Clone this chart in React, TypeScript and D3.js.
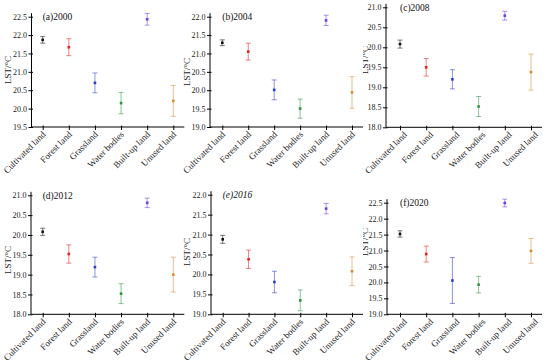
import React, { useEffect, useRef } from "react";
import * as d3 from "d3";

const width = 550;
const height = 364;
const font = "'Liberation Serif', 'Times New Roman', serif";

const categories = [
  "Cultivated land",
  "Forest land",
  "Grassland",
  "Water bodies",
  "Built-up land",
  "Unused land"
];
const colors = ["#111111", "#e3211d", "#2b3bd0", "#2e9440", "#6c3fe0", "#d68a35"];

// mean LST and error per land type
const mean2000 = [21.87, 21.67, 20.7, 20.15, 22.43, 20.21];
const err2000 = [0.09, 0.23, 0.27, 0.29, 0.16, 0.42];
const mean2004 = [21.29, 21.05, 20.01, 19.5, 21.9, 19.94];
const err2004 = [0.08, 0.23, 0.27, 0.26, 0.14, 0.43];
const mean2008 = [20.08, 19.5, 19.2, 18.52, 20.79, 19.38];
const err2008 = [0.1, 0.22, 0.24, 0.25, 0.11, 0.45];
const mean2012 = [20.08, 19.52, 19.19, 18.52, 20.81, 19.0];
const err2012 = [0.09, 0.23, 0.25, 0.25, 0.12, 0.44];
const mean2016 = [20.88, 20.38, 19.81, 19.35, 21.65, 20.08];
const err2016 = [0.1, 0.23, 0.27, 0.26, 0.13, 0.36];
const mean2020 = [21.52, 20.89, 20.06, 19.93, 22.49, 20.99];
const err2020 = [0.1, 0.25, 0.72, 0.26, 0.12, 0.39];

// y tick labels
const ticksA = [19.5, 20.0, 20.5, 21.0, 21.5, 22.0, 22.5];
const ticksB = [19.0, 19.5, 20.0, 20.5, 21.0, 21.5, 22.0];
const ticksC = [18.0, 18.5, 19.0, 19.5, 20.0, 20.5, 21.0];
const ticksD = [18.0, 18.5, 19.0, 19.5, 20.0, 20.5, 21.0];
const ticksE = [19.0, 19.5, 20.0, 20.5, 21.0, 21.5, 22.0];
const ticksF = [19.0, 19.5, 20.0, 20.5, 21.0, 21.5, 22.0, 22.5];

const panels = [
  { id: "a", title: "(a)2000", mean: mean2000, err: err2000, ticks: ticksA, x0: 31.5, cx: [42.7, 173.3], yb: 127, yt: 16.7, lab: [7.5, 70], tdx: 3 },
  { id: "b", title: "(b)2004", mean: mean2004, err: err2004, ticks: ticksB, x0: 210, cx: [222.3, 352], yb: 127, yt: 16.7, lab: [187, 72], tdx: 3 },
  { id: "c", title: "(c)2008", mean: mean2008, err: err2008, ticks: ticksC, x0: 386, cx: [400, 531], yb: 127.3, yt: 7.3, lab: [365, 60], clip: 363, tdx: 7 },
  { id: "d", title: "(d)2012", mean: mean2012, err: err2012, ticks: ticksD, x0: 31, cx: [42.7, 173.3], yb: 314.3, yt: 195.3, lab: [7.5, 260], tdx: 3 },
  { id: "e", title: "(e)2016", mean: mean2016, err: err2016, ticks: ticksE, x0: 211, cx: [222.7, 352], yb: 314.3, yt: 194.7, lab: [187, 252], italic: true, tdx: 3 },
  { id: "f", title: "(f)2020", mean: mean2020, err: err2020, ticks: ticksF, x0: 387, cx: [400, 531], yb: 314.3, yt: 202.7, lab: [365, 242], clip: 363, tdx: 7 }
];

function Panel({ p }) {
  const yAxisRef = useRef(null);
  const xAxisRef = useRef(null);

  const x = d3.scalePoint().domain(categories).range(p.cx);
  const yScale = d3
    .scaleLinear()
    .domain([p.ticks[0], p.ticks[p.ticks.length - 1]])
    .range([p.yb, p.yt]);
  const xEnd = p.cx[1] + 11;
  const yTop = p.yt - 3.5;

  useEffect(() => {
    const yAxis = d3
      .axisLeft(yScale)
      .tickValues(p.ticks)
      .tickSizeInner(3)
      .tickSizeOuter(0)
      .tickFormat(d3.format(".1f"));
    const g = d3.select(yAxisRef.current).call(yAxis);
    g.select(".domain").remove();
    g.selectAll("text").attr("font-family", font).attr("font-size", 8).attr("fill", "#222").attr("x", -4.5);
    g.selectAll("line").attr("x2", -3).attr("x1", 1.5);

    const xAxis = d3.axisBottom(x).tickSizeInner(3).tickSizeOuter(0);
    const gx = d3.select(xAxisRef.current).call(xAxis);
    gx.select(".domain").remove();
    gx.selectAll("line").attr("y1", -1.5);
    gx.selectAll("text")
      .attr("font-family", font)
      .attr("font-size", 9)
      .attr("fill", "#222")
      .attr("text-anchor", "end")
      .attr("dy", null)
      .attr("y", 0)
      .attr("transform", `translate(${p.tdx},8) rotate(-45)`);
  }, []);

  const body = (
    <g>
      <line x1={p.x0} x2={p.x0} y1={yTop} y2={p.yb} stroke="#000" strokeWidth={1} />
      <line x1={p.x0} x2={xEnd} y1={p.yb} y2={p.yb} stroke="#000" strokeWidth={1} />
      <g ref={yAxisRef} transform={`translate(${p.x0},0)`} />
      <g ref={xAxisRef} transform={`translate(0,${p.yb})`} />
      <text
        transform={`translate(${p.lab[0]},${p.lab[1]}) rotate(-90)`}
        textAnchor="middle"
        dominantBaseline="central"
        fontFamily={font}
        fontSize={9}
        fill="#222"
      >
        LST/°C
      </text>
      <text
        x={p.cx[0]}
        y={yTop + 7}
        fontFamily={font}
        fontSize={9.5}
        fontStyle={p.italic ? "italic" : "normal"}
        fill="#111"
      >
        {p.title}
      </text>
      {categories.map((c, i) => {
        const cx = x(c);
        const hi = yScale(p.mean[i] + p.err[i]);
        const lo = yScale(p.mean[i] - p.err[i]);
        return (
          <g key={c}>
            <g stroke={colors[i]} strokeOpacity={0.55} strokeWidth={1}>
              <line x1={cx} x2={cx} y1={hi} y2={lo} />
              <line x1={cx - 2.5} x2={cx + 2.5} y1={hi} y2={hi} />
              <line x1={cx - 2.5} x2={cx + 2.5} y1={lo} y2={lo} />
            </g>
            <rect
              x={cx - 1.3}
              y={yScale(p.mean[i]) - 1.3}
              width={2.6}
              height={2.6}
              fill={colors[i]}
            />
          </g>
        );
      })}
    </g>
  );

  if (!p.clip) return body;
  return (
    <g>
      <clipPath id={`clip-${p.id}`}>
        <rect x={p.clip} y={0} width={width - p.clip} height={height} />
      </clipPath>
      <g clipPath={`url(#clip-${p.id})`}>{body}</g>
    </g>
  );
}

export default function App() {
  return (
    <svg
      width={width}
      height={height}
      style={{ position: "absolute", left: 0, top: 0, background: "#fff" }}
    >
      {panels.map(p => (
        <Panel key={p.title} p={p} />
      ))}
    </svg>
  );
}
